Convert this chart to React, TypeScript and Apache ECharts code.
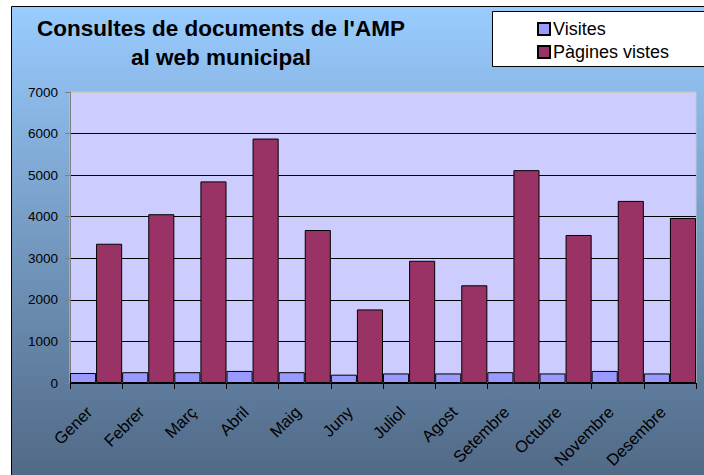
import React, { useEffect, useRef } from "react";
import * as echarts from "echarts";

const months = ["Gener", "Febrer", "Març", "Abril", "Maig", "Juny", "Juliol", "Agost", "Setembre", "Octubre", "Novembre", "Desembre"];
const visites = [240, 260, 260, 290, 260, 200, 230, 230, 260, 230, 290, 230];
const pagines = [3350, 4060, 4850, 5880, 3680, 1770, 2940, 2350, 5120, 3560, 4380, 3970];
const titleLines = ["Consultes de documents de l'AMP", "al web municipal"];
const seriesNames = ["Visites", "Pàgines vistes"];

const FONT = "'Liberation Sans', Arial, sans-serif";

export default function App() {
  const ref = useRef<HTMLDivElement>(null);
  useEffect(() => {
    document.body.style.margin = "0";
    const chart = echarts.init(ref.current!, null, { renderer: "svg" });
    chart.setOption({
      animation: false,
      graphic: [
        {
          type: "rect",
          z: -10,
          shape: { x: 11.5, y: 6.5, width: 720, height: 500 },
          style: {
            fill: new echarts.graphic.LinearGradient(0, 0, 0, 1, [
              { offset: 0, color: "#99ccff" },
              { offset: 0.5, color: "#7296bd" },
              { offset: 1, color: "#4c637e" },
            ]),
            stroke: "#000",
            lineWidth: 1,
          },
        },
        {
          type: "rect",
          z: 5,
          shape: { x: 492.5, y: 11.5, width: 220, height: 55 },
          style: { fill: "#fff", stroke: "#000", lineWidth: 1 },
        },
      ],
      title: {
        text: titleLines.join("\n"),
        left: 216,
        top: 9,
        textAlign: "center",
        textStyle: { fontFamily: FONT, fontSize: 22.5, fontWeight: "bold", color: "#000", lineHeight: 29 },
      },
      legend: {
        orient: "vertical",
        left: 532,
        top: 15,
        z: 10,
        itemWidth: 12,
        itemHeight: 12,
        itemGap: 5,
        icon: "rect",
        textStyle: { fontFamily: FONT, fontSize: 18, color: "#000", padding: [0, 0, 0, -2] },
        data: seriesNames,
      },
      grid: {
        left: 70,
        right: 8,
        top: 92,
        bottom: 92,
        show: true,
        backgroundColor: "#ccccff",
        borderWidth: 1,
        borderColor: "#c8c8c8",
      },
      xAxis: {
        type: "category",
        data: months,
        axisLine: { lineStyle: { color: "#000", width: 1 } },
        axisTick: { show: true, length: 6, lineStyle: { color: "#000" } },
        axisLabel: {
          rotate: 45,
          interval: 0,
          margin: 19,
          padding: [0, 10, 0, 0],
          fontFamily: FONT,
          fontSize: 16.5,
          color: "#000",
        },
      },
      yAxis: {
        type: "value",
        min: 0,
        max: 7000,
        interval: 1000,
        axisLine: { show: true, lineStyle: { color: "#808080", width: 1 } },
        axisTick: { show: true, length: 5, lineStyle: { color: "#808080" } },
        axisLabel: {
          margin: 12,
          fontFamily: FONT,
          fontSize: 13.5,
          color: "#000",
          formatter: (v: number) => String(v),
        },
        splitLine: {
          lineStyle: {
            color: ["#000", "#000", "#000", "#000", "#000", "#000", "#000", "#c8c8c8"],
            width: 1,
          },
        },
      },
      series: [
        {
          name: seriesNames[0],
          type: "bar",
          data: visites,
          barGap: "0%",
          barCategoryGap: "0%",
          itemStyle: { color: "#9999ff", borderColor: "#000", borderWidth: 1 },
        },
        {
          name: seriesNames[1],
          type: "bar",
          data: pagines,
          barGap: "0%",
          barCategoryGap: "0%",
          itemStyle: { color: "#993366", borderColor: "#000", borderWidth: 1 },
        },
      ],
    });
    return () => chart.dispose();
  }, []);
  return <div ref={ref} style={{ width: 704, height: 475 }} />;
}
